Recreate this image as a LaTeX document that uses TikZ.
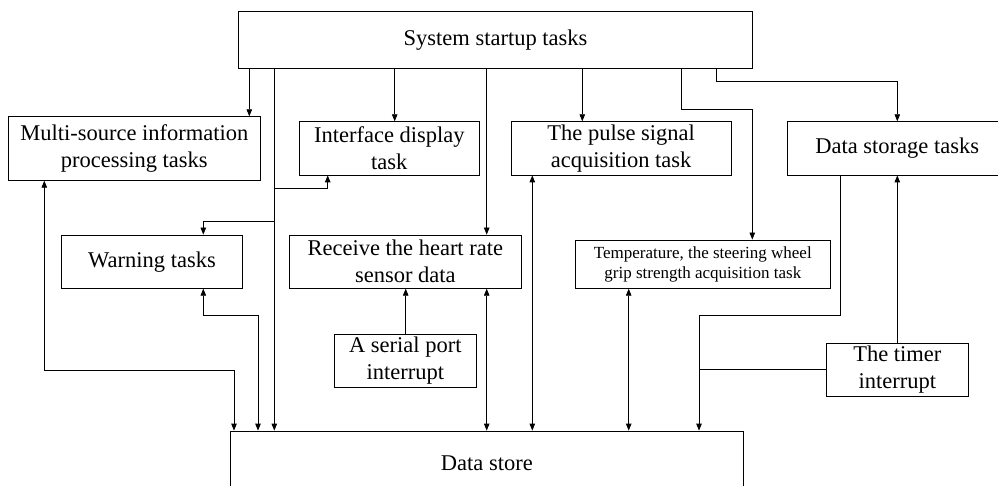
\documentclass[tikz,border=0pt]{standalone}
\usepackage{fontspec}
\setmainfont{Liberation Serif}
\usetikzlibrary{arrows.meta}
\begin{document}
\begin{tikzpicture}[x=1pt,y=-1pt,
  box/.style={draw, line width=0.8pt, inner sep=0pt, align=center, font=\fontsize{22.5}{27}\selectfont},
  smallbox/.style={box, font=\fontsize{17}{20}\selectfont},
  conn/.style={line width=0.8pt},
  >={Triangle[length=7pt,width=5.5pt]}]
\useasboundingbox (0,0) rectangle (998,486);
\clip (0,0) rectangle (998,486);

\node[box, minimum width=513.6, minimum height=57.3] (sys) at (495.5,39.7) {System startup tasks};
\node[box, minimum width=252, minimum height=63.6] (mul) at (134.3,148.5) {Multi-source information\\processing tasks};
\node[box, minimum width=180.7, minimum height=53.3] (ifc) at (389.35,148.35) {Interface display\\task};
\node[box, minimum width=219.7, minimum height=53.3] (pul) at (621.15,148.35) {The pulse signal\\acquisition task};
\node[box, minimum width=219.7, minimum height=53.3] (dst) at (897.15,148.35) {Data storage tasks};
\node[box, minimum width=180.6, minimum height=53.3] (war) at (152,261.65) {Warning tasks};
\node[box, minimum width=232, minimum height=53.3] (rcv) at (405.3,261.65) {Receive the heart rate\\sensor data};
\node[smallbox, minimum width=255, minimum height=48.3] (tmp) at (702.8,264.15) {Temperature, the steering wheel\\grip strength acquisition task};
\node[box, minimum width=142, minimum height=53.4] (ser) at (405.3,361) {A serial port\\interrupt};
\node[box, minimum width=142, minimum height=52.7] (tim) at (897.3,369.65) {The timer\\interrupt};
\node[box, minimum width=513.7, minimum height=64] (sto) at (486.85,463) {Data store};

\coordinate (xA) at (249.3,0);
\coordinate (xB) at (274.3,0);
\coordinate (xC) at (327.7,0);
\coordinate (xD) at (203.3,0);
\coordinate (xE) at (394.7,0);
\coordinate (xF) at (486.7,0);
\coordinate (xG) at (582.3,0);
\coordinate (xH) at (681.3,0);
\coordinate (xI) at (752.3,0);
\coordinate (xJ) at (716.7,0);
\coordinate (xK) at (897.3,0);
\coordinate (xL) at (44.3,0);
\coordinate (xM) at (234,0);
\coordinate (xN) at (258,0);
\coordinate (xO) at (405.7,0);
\coordinate (xP) at (532.3,0);
\coordinate (xQ) at (628.7,0);
\coordinate (xR) at (840.7,0);
\coordinate (xS) at (699,0);
\coordinate (yIfc) at (0,188.3);
\coordinate (yWar) at (0,221.7);
\coordinate (yT) at (0,109.3);
\coordinate (yS) at (0,81.7);
\coordinate (yM) at (0,370);
\coordinate (yW) at (0,315);

\draw[conn,->] (sys.south -| xA) -- (mul.north -| xA);
\draw[conn,->] (sys.south -| xB) -- (sto.north -| xB);
\draw[conn,->] (yIfc -| xB) -| (ifc.south -| xC);
\draw[conn,->] (yWar -| xB) -| (war.north -| xD);
\draw[conn,->] (sys.south -| xE) -- (ifc.north -| xE);
\draw[conn,->] (sys.south -| xF) -- (rcv.north -| xF);
\draw[conn,->] (sys.south -| xG) -- (pul.north -| xG);
\draw[conn,->] (sys.south -| xH) |- (yT -| xI) -- (tmp.north -| xI);
\draw[conn,->] (sys.south -| xJ) |- (yS -| xK) -- (dst.north -| xK);
\draw[conn,<->] (mul.south -| xL) |- (yM -| xM) -- (sto.north -| xM);
\draw[conn,<->] (war.south -| xD) |- (yW -| xN) -- (sto.north -| xN);
\draw[conn,->] (ser.north -| xO) -- (rcv.south -| xO);
\draw[conn,<->] (rcv.south -| xF) -- (sto.north -| xF);
\draw[conn,<->] (pul.south -| xP) -- (sto.north -| xP);
\draw[conn,<->] (tmp.south -| xQ) -- (sto.north -| xQ);
\draw[conn,->] (dst.south -| xR) |- (yW -| xS) -- (sto.north -| xS);
\draw[conn,->] (tim.north -| xK) -- (dst.south -| xK);
\draw[conn] (tim.west) -- (tim.west -| xS);
\end{tikzpicture}
\end{document}
